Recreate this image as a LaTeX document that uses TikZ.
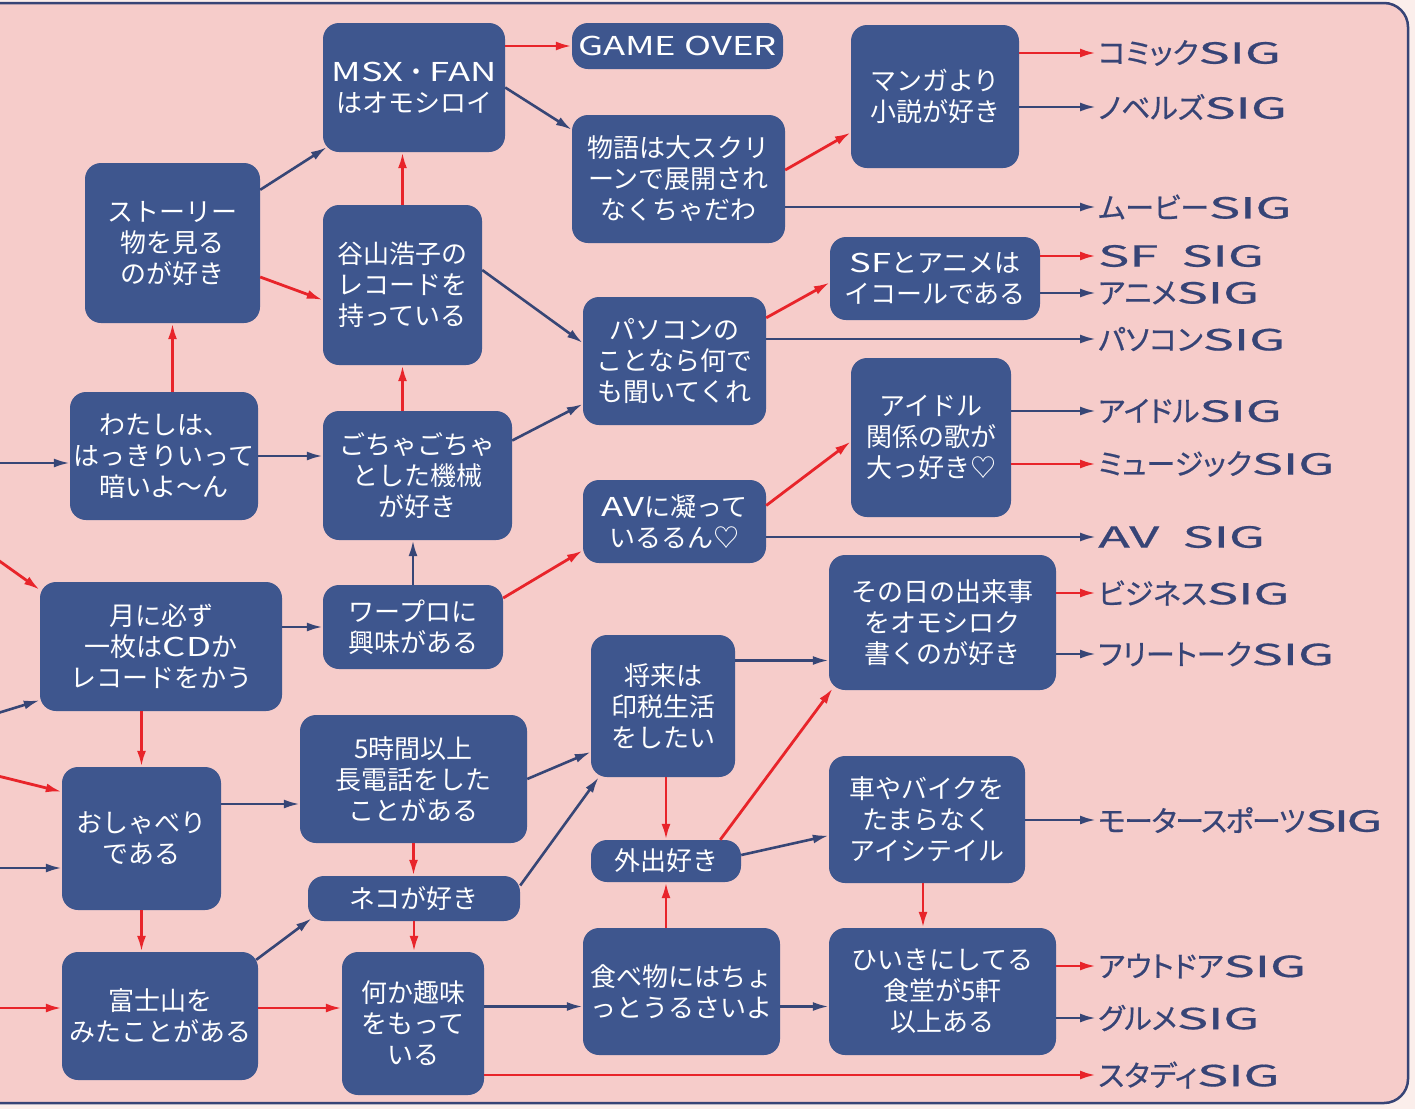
\documentclass[tikz,border=0pt]{standalone}
\usepackage{fontspec}
\usepackage{graphicx}
\usetikzlibrary{arrows.meta}
\newfontfamily\jp{Noto Sans CJK JP}
\newfontfamily\jpp[RawFeature=+palt,FakeBold=0.6]{Noto Sans CJK JP}
\definecolor{bg}{RGB}{246,204,202}
\definecolor{bgout}{RGB}{251,238,235}
\definecolor{boxblue}{RGB}{62,86,142}
\definecolor{navy}{RGB}{55,68,118}
\definecolor{arrred}{RGB}{232,36,42}
\definecolor{arrblue}{RGB}{55,70,118}
\newcommand{\W}[1]{\scalebox{1.4}[1]{#1}}
\newcommand{\WL}[1]{\scalebox{1.8}[1]{#1}}
\tikzset{
  box/.style={fill=boxblue, rounded corners=16pt, text=white, align=center, inner sep=0pt,
    font=\jp\fontsize{26}{31}\selectfont},
  lab/.style={anchor=west, text=navy, inner sep=2pt, font=\jpp\fontsize{29}{30}\selectfont},
  ra/.style={draw=arrred, line width=2.8pt, -{Latex[length=16pt,width=9pt]}},
  ba/.style={draw=arrblue, line width=2.6pt, -{Latex[length=16pt,width=9pt]}},
}
\begin{document}
\begin{tikzpicture}[x=1pt,y=-1pt]
\useasboundingbox (0,0) rectangle (1415,1109);
\fill[bgout] (0,0) rectangle (1415,1109);
\filldraw[fill=bg, draw=navy, line width=2.5pt, rounded corners=24pt]
  (-20,3) -- (1408,3) -- (1408,1103) -- (-20,1103);

% column 1
\node[box, minimum width=188pt, minimum height=128pt] (waki) at (164,456) {わたしは、\\はっきりいって\\暗いよ〜ん};
\node[box, minimum width=175pt, minimum height=160pt] (story) at (172.5,243) {ストーリー\\物を見る\\のが好き};
\node[box, minimum width=242pt, minimum height=129pt] (tsuki) at (161,646.5) {月に必ず\\一枚は\W{CD}か\\レコードをかう};
\node[box, minimum width=159pt, minimum height=143pt] (oshabe) at (141.5,838.5) {おしゃべり\\である};
\node[box, minimum width=196pt, minimum height=128pt] (fuji) at (160,1016) {富士山を\\みたことがある};
% column 2
\node[box, minimum width=182pt, minimum height=129pt] (msx) at (414,87.5) {\W{MSX}・\W{FAN}\\はオモシロイ};
\node[box, minimum width=159pt, minimum height=160pt] (tani) at (402.5,285) {谷山浩子の\\レコードを\\持っている};
\node[box, minimum width=189pt, minimum height=129pt] (gocha) at (417.5,475.5) {ごちゃごちゃ\\とした機械\\が好き};
\node[box, minimum width=180pt, minimum height=84pt] (wapro) at (413,627) {ワープロに\\興味がある};
\node[box, minimum width=227pt, minimum height=128pt] (five) at (413.5,779) {5時間以上\\長電話をした\\ことがある};
\node[box, minimum width=212pt, minimum height=45pt] (neko) at (414,898.5) {ネコが好き};
\node[box, minimum width=142pt, minimum height=143pt] (hobby) at (413,1023.5) {何か趣味\\をもって\\いる};
% column 3
\node[box, minimum width=211pt, minimum height=46pt] (gameover) at (677.5,46) {\W{GAME OVER}};
\node[box, minimum width=213pt, minimum height=128pt] (mono) at (678.5,179) {物語は大スクリ\\ーンで展開され\\なくちゃだわ};
\node[box, minimum width=183pt, minimum height=128pt] (pc) at (674.5,361) {パソコンの\\ことなら何で\\も聞いてくれ};
\node[box, minimum width=183pt, minimum height=83pt] (av) at (674.5,521.5) {\W{AV}に凝って\\いるるん♡};
\node[box, minimum width=144pt, minimum height=142pt] (insei) at (663,706) {将来は\\印税生活\\をしたい};
\node[box, minimum width=150pt, minimum height=42pt] (gaishutsu) at (666,861) {外出好き};
\node[box, minimum width=197pt, minimum height=127pt] (food) at (681.5,991.5) {食べ物にはちょ\\っとうるさいよ};
% column 4
\node[box, minimum width=168pt, minimum height=143pt] (manga) at (935,96.5) {マンガより\\小説が好き};
\node[box, minimum width=210pt, minimum height=83pt] (sf) at (935,278.5) {\W{SF}とアニメは\\イコールである};
\node[box, minimum width=160pt, minimum height=159pt] (idol) at (931,437.5) {アイドル\\関係の歌が\\大っ好き♡};
\node[box, minimum width=227pt, minimum height=135pt] (sonohi) at (942.5,622.5) {その日の出来事\\をオモシロク\\書くのが好き};
\node[box, minimum width=196pt, minimum height=127pt] (car) at (927,819.5) {車やバイクを\\たまらなく\\アイシテイル};
\node[box, minimum width=227pt, minimum height=127pt] (hiiki) at (942.5,991.5) {ひいきにしてる\\食堂が5軒\\以上ある};

% SIG labels
\node[lab] (sComic) at (1096,53) {コミック\WL{SIG}};
\node[lab] (sNovel) at (1096,107) {ノベルズ\WL{SIG}};
\node[lab] (sMovie) at (1096,207) {ムービー\WL{SIG}};
\node[lab] (sSF) at (1096,256) {\WL{SF\ \ SIG}};
\node[lab] (sAnime) at (1096,293) {アニメ\WL{SIG}};
\node[lab] (sPC) at (1096,339) {パソコン\WL{SIG}};
\node[lab] (sIdol) at (1096,411) {アイドル\WL{SIG}};
\node[lab] (sMusic) at (1096,464) {ミュージック\WL{SIG}};
\node[lab] (sAV) at (1096,537) {\WL{AV\ \ SIG}};
\node[lab] (sBiz) at (1096,593) {ビジネス\WL{SIG}};
\node[lab] (sFree) at (1096,654) {フリートーク\WL{SIG}};
\node[lab] (sMotor) at (1096,820) {\addfontfeature{LetterSpace=-5}モータースポーツ\WL{SIG}};
\node[lab] (sOut) at (1096,966) {アウトドア\WL{SIG}};
\node[lab] (sGourmet) at (1096,1018) {グルメ\WL{SIG}};
\node[lab] (sStudy) at (1096,1075) {スタディ\WL{SIG}};

% free ends at the left edge
\coordinate (inA) at (-2,463);
\coordinate (inB) at (-2,560);
\coordinate (inC) at (-2,713);
\coordinate (inD) at (-2,776);
\coordinate (inE) at (-2,868);
\coordinate (inF) at (-2,1008);

\draw[ba] (inA) -- (inA -| waki.west);
\draw[ra] (inB) -- ([yshift=-8pt]tsuki.north west);
\draw[ba] (inC) -- ([yshift=11pt]tsuki.south west);
\draw[ra] (inD) -- ([yshift=-25pt]oshabe.north west);
\draw[ba] (inE) -- (inE -| oshabe.west);
\draw[ra] (inF) -- (inF -| fuji.west);

% column 1 links
\draw[ra] (story.south |- waki.north) -- (story.south);
\draw[ba] (waki.east) -- (waki.east -| gocha.west);
\draw[ba] ([yshift=-27pt]story.north east) -- ([xshift=4pt,yshift=5pt]msx.south west);
\draw[ra] ([yshift=-34pt]story.east) -- ([yshift=-15pt]tani.west);
\draw[ba] (tsuki.east |- wapro.west) -- (wapro.west);
\draw[ra] (oshabe.north |- tsuki.south) -- (oshabe.north);
\draw[ba] ([yshift=-25pt]five.west -| oshabe.east) -- ([yshift=-25pt]five.west);
\draw[ra] (oshabe.south) -- (oshabe.south |- fuji.north);
\draw[ba] ([xshift=-2pt,yshift=-8pt]fuji.north east) -- ([xshift=4pt,yshift=3pt]neko.south west);
\draw[ra] ([yshift=8pt]fuji.east) -- ([yshift=8pt]fuji.east -| hobby.west);

% column 2 links
\draw[ra] (tani.north) -- (tani.north |- msx.south);
\draw[ra] (tani.south |- gocha.north) -- (tani.south);
\draw[ra] (gameover.west -| msx.east) -- (gameover.west);
\draw[ba] (msx.east) -- ([yshift=-15pt]mono.north west);
\draw[ba] ([yshift=15pt]tani.east) -- ([yshift=18pt]pc.west);
\draw[ba] ([yshift=35pt]gocha.east) -- ([yshift=-43pt]pc.west);
\draw[ba] (wapro.north) -- (wapro.north |- gocha.south);
\draw[ra] ([yshift=29pt]wapro.east) -- ([yshift=-29pt]av.west);
\draw[ba] (five.east) -- ([yshift=-46pt]insei.west);
\draw[ra] (five.south) -- (five.south |- neko.north);
\draw[ba] ([yshift=13pt]neko.east) -- ([xshift=8pt]insei.south west);
\draw[ra] (neko.south) -- (neko.south |- hobby.north);
\draw[ba] ([yshift=-15pt]food.west -| hobby.east) -- ([yshift=-15pt]food.west);
\draw[ra] (sStudy.west -| hobby.east) -- (sStudy.west);

% column 3 links
\draw[ra] ([yshift=9pt]mono.east) -- ([yshift=-36pt]manga.west);
\draw[ba] (sMovie.west -| mono.east) -- (sMovie.west);
\draw[ra] ([yshift=-21pt]pc.north east) -- ([yshift=-4pt]sf.west);
\draw[ba] (sPC.west -| pc.east) -- (sPC.west);
\draw[ra] ([yshift=16pt]av.east) -- ([yshift=-4pt]idol.west);
\draw[ba] (sAV.west -| av.east) -- (sAV.west);
\draw[ba] ([yshift=-38pt]sonohi.west -| insei.east) -- ([yshift=-38pt]sonohi.west);
\draw[ra] (gaishutsu.north |- insei.south) -- (gaishutsu.north);
\draw[ra] (gaishutsu.south |- food.north) -- (gaishutsu.south);
\draw[ra] ([xshift=-21pt]gaishutsu.north east) -- ([xshift=4pt,yshift=2pt]sonohi.south west);
\draw[ba] ([yshift=6pt]gaishutsu.east) -- ([yshift=-16pt]car.west);
\draw[ba] ([yshift=-15pt]food.east) -- ([yshift=-15pt]food.east -| hiiki.west);

% column 4 links
\draw[ra] (sComic.west -| manga.east) -- (sComic.west);
\draw[ba] (sNovel.west -| manga.east) -- (sNovel.west);
\draw[ra] (sSF.west -| sf.east) -- (sSF.west);
\draw[ba] (sAnime.west -| sf.east) -- (sAnime.west);
\draw[ba] (sIdol.west -| idol.east) -- (sIdol.west);
\draw[ra] (sMusic.west -| idol.east) -- (sMusic.west);
\draw[ra] (sBiz.west -| sonohi.east) -- (sBiz.west);
\draw[ba] (sFree.west -| sonohi.east) -- (sFree.west);
\draw[ba] (sMotor.west -| car.east) -- (sMotor.west);
\draw[ra] ([xshift=-4pt]car.south) -- ([xshift=-4pt]car.south |- hiiki.north);
\draw[ra] (sOut.west -| hiiki.east) -- (sOut.west);
\draw[ba] (sGourmet.west -| hiiki.east) -- (sGourmet.west);
\end{tikzpicture}
\end{document}
